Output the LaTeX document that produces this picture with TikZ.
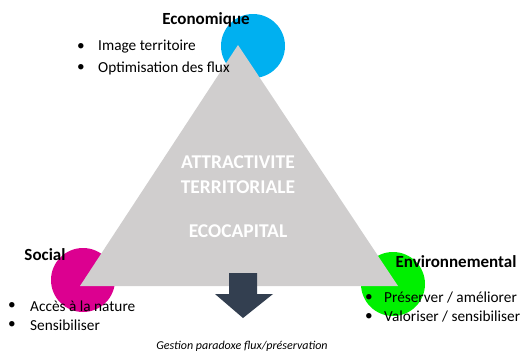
\documentclass[tikz,border=0pt]{standalone}
\usepackage{fontspec}
\setmainfont{Carlito}
\definecolor{ecoblue}{HTML}{00B0F0}
\definecolor{socpink}{HTML}{DC0090}
\definecolor{envgreen}{HTML}{00F000}
\definecolor{trigray}{HTML}{D0CECE}
\definecolor{arrowdark}{HTML}{333F50}
\tikzset{
  pole/.style={font=\fontsize{17}{19}\selectfont\bfseries, inner sep=0pt},
  item/.style={font=\fontsize{15.3}{17}\selectfont, inner sep=0pt, anchor=west},
  core/.style={font=\fontsize{19.5}{21}\selectfont\bfseries, text=white, inner sep=0pt}
}
\begin{document}
\begin{tikzpicture}[x=1pt,y=-1pt]
\useasboundingbox (0,0) rectangle (523,351);
% the three poles
\fill[ecoblue] (253,46) circle (32);
\fill[socpink] (83,280) circle (32);
\fill[envgreen] (393,284) circle (32);
% triangle and arrow
\fill[trigray] (238,45) -- (80,286) -- (398,286) -- cycle;
\fill[arrowdark] (229,273) -- (257,273) -- (257,294) -- (273,294) -- (243,318) -- (215,294) -- (229,294) -- cycle;
% centre
\node[core] (attr) at (238,162) {ATTRACTIVITE};
\node[core] (terr) at (238,187) {TERRITORIALE};
\node[core] (eco) at (238,231) {ECOCAPITAL};
% economique
\node[pole] (econ) at (206,20) {Economique};
\node[item] (econa) at (77,47) {\textbullet};
\node[item] (econb) at (98,47) {Image territoire};
\node[item] (econc) at (77,68) {\textbullet};
\node[item] (econd) at (98,68) {Optimisation des flux};
% social
\node[pole] (soc) at (45,255) {Social};
\node[item] (soca) at (8,306) {\textbullet};
\node[item] (socb) at (30,306) {Accès à la nature};
\node[item] (socc) at (8,325) {\textbullet};
\node[item] (socd) at (30,325) {Sensibiliser};
% environnemental
\node[pole] (env) at (456,262) {Environnemental};
\node[item] (enva) at (365,298) {\textbullet};
\node[item] (envb) at (384,298) {Préserver / améliorer};
\node[item] (envc) at (365,317) {\textbullet};
\node[item] (envd) at (384,317) {Valoriser / sensibiliser};
% bottom
\node[font=\fontsize{12}{14}\selectfont\itshape, inner sep=0pt] (gest) at (242,346) {Gestion paradoxe flux/préservation};
\end{tikzpicture}
\end{document}
